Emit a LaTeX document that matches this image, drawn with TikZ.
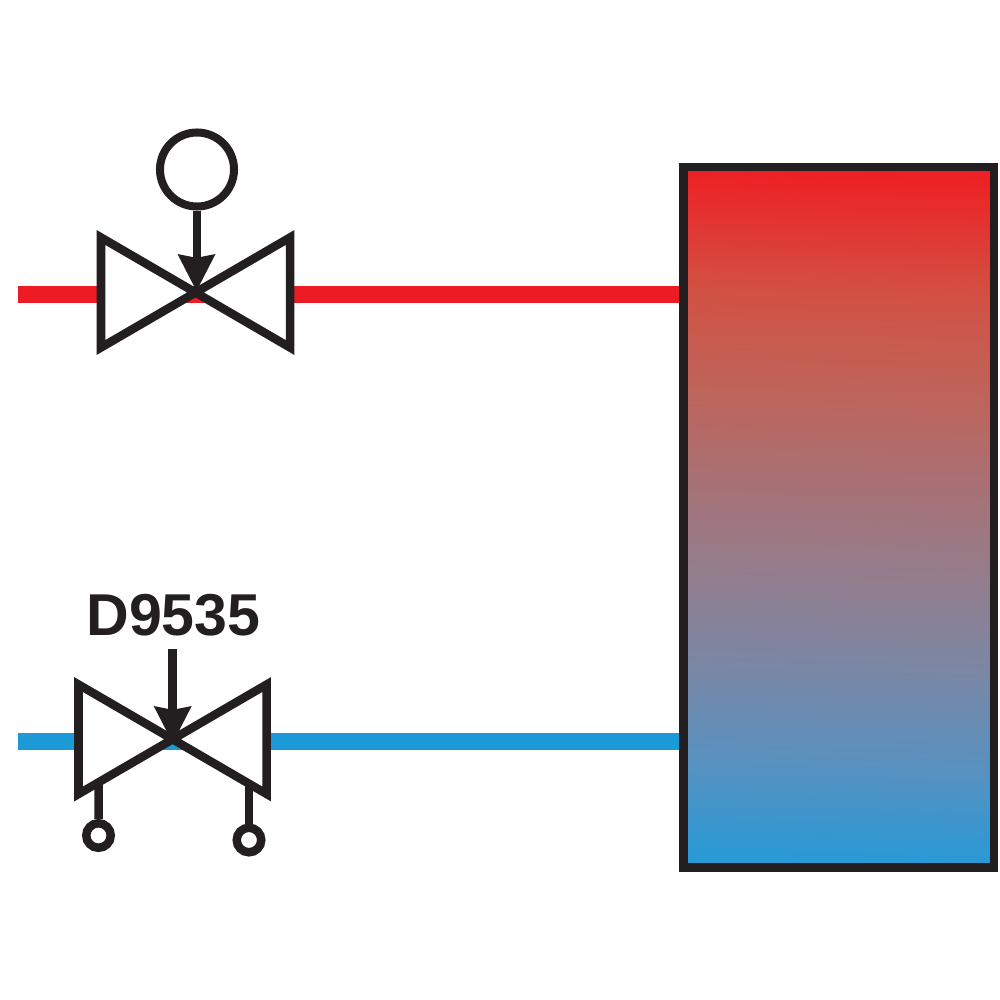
\documentclass[tikz,border=0pt]{standalone}
\usepackage{fontspec}
\setmainfont{Liberation Sans}
\usetikzlibrary{calc}
\definecolor{ink}{HTML}{231F20}
\definecolor{hot}{HTML}{ED1C24}
\definecolor{cold}{HTML}{1C9AD6}
\definecolor{fadetop}{RGB}{238,32,36}
\definecolor{fadeA}{RGB}{209,82,68}
\definecolor{fadeB}{RGB}{190,100,90}
\definecolor{fadeC}{RGB}{170,112,115}
\definecolor{fadeD}{RGB}{148,125,140}
\definecolor{fadeE}{RGB}{122,135,165}
\definecolor{fadeF}{RGB}{88,145,192}
\definecolor{fadebot}{RGB}{40,154,214}
\pgfdeclareverticalshading{tankfade}{100bp}{
  color(0bp)=(fadebot);
  color(25bp)=(fadebot);
  color(32bp)=(fadeF);
  color(39bp)=(fadeE);
  color(46bp)=(fadeD);
  color(53bp)=(fadeC);
  color(59bp)=(fadeB);
  color(66bp)=(fadeA);
  color(75bp)=(fadetop);
  color(100bp)=(fadetop)}
\tikzset{
  x=0.01cm,y=-0.01cm,
  pipe/.style={line width=0.17cm,line cap=butt},
  valvebody/.style={draw=ink,fill=white,line width=0.085cm,miter limit=10,line join=miter},
  stem/.style={draw=ink,line width=0.085cm},
  tankbox/.style={draw=ink,line width=0.085cm,rectangle,inner sep=0,minimum width=3.105cm,minimum height=7.005cm,shading=tankfade,shading angle=-1.5},
  actuator/.style={circle,draw=ink,fill=white,line width=0.08cm,inner sep=0,minimum size=0.74cm},
  terminal/.style={circle,draw=ink,fill=white,line width=0.085cm,inner sep=0,minimum size=0.245cm},
  pics/headtip/.style={code={\fill[ink] (0,0) -- (-19,-37) -- (-4,-34) -- (4,-34) -- (19,-37) -- cycle;}}
}
\begin{document}
\begin{tikzpicture}
\useasboundingbox (0,0) rectangle (1000,1000);
\node[tankbox] (tank) at (838.75,517.25) {};
\coordinate (hotstart) at (17.5,294.5);
\coordinate (coldstart) at (17.5,741.5);
\draw[pipe,hot] (hotstart) -- (hotstart -| tank.west);
\draw[pipe,cold] (coldstart) -- (coldstart -| tank.west);
% upper valve
\draw[valvebody] (101,237.5) -- (290,347.5) -- (290,237.5) -- (101,347.5) -- cycle;
\node[actuator] (act) at (197,169.5) {};
\draw[stem] (act.south) -- (197,262);
\pic at (196.5,291) {headtip};
% lower valve
\draw[valvebody] (78.5,684.5) -- (266.7,794) -- (266.7,684.5) -- (78.5,794) -- cycle;
\node[text=ink,inner sep=0,font={\fontsize{16.8pt}{18pt}\selectfont\bfseries}] (label) at (173.5,615) {D9535};
\coordinate (stemtop) at (172.7,649);
\draw[stem] (stemtop) -- (172.7,710);
\pic at (172.7,743) {headtip};
\node[terminal] (tl) at (98.5,835.5) {};
\node[terminal] (tr) at (249,840) {};
\draw[stem] (98.7,783) -- (tl.north);
\draw[stem] (249,783) -- (tr.north);
\end{tikzpicture}
\end{document}
